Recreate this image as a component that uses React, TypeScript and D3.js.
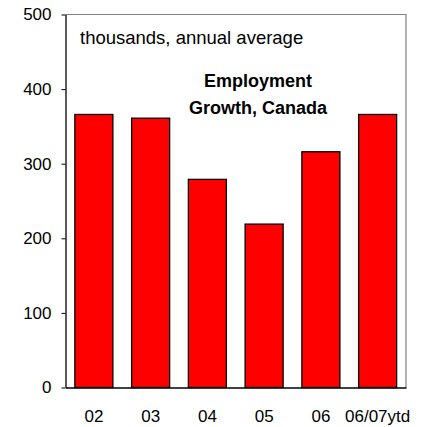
import React, { useRef, useEffect } from 'react';
import * as d3 from 'd3';

const categories = ['02', '03', '04', '05', '06', '06/07ytd'];
const values = [366, 361, 279, 219, 316, 366];
const yTicks = [0, 100, 200, 300, 400, 500];
const subtitle = 'thousands, annual average';
const titleLines = ['Employment', 'Growth, Canada'];

const W = 428;
const H = 427;

const App: React.FC = () => {
  const svgRef = useRef<SVGSVGElement | null>(null);

  useEffect(() => {
    if (!svgRef.current) return;
    const margin = { top: 14.5, right: 22, bottom: 39.5, left: 65.5 };
    const innerWidth = W - margin.left - margin.right;
    const innerHeight = H - margin.top - margin.bottom;
    const svg = d3.select(svgRef.current);
    svg.selectAll('*').remove();
    const g = svg.append('g').attr('transform', `translate(${margin.left},${margin.top})`);

    const x = d3.scaleBand<string>().domain(categories).range([0, innerWidth]).paddingInner(0.33).paddingOuter(0.165);
    const y = d3.scaleLinear().domain([0, 500]).range([innerHeight, 0]);

    // frame top + right (grey)
    g.append('path')
      .attr('d', `M0,0H${innerWidth}V${innerHeight}`)
      .attr('fill', 'none')
      .attr('stroke', '#7f7f7f')
      .attr('stroke-width', 1.2);

    g.selectAll('rect.bar')
      .data(values)
      .join('rect')
      .attr('class', 'bar')
      .attr('x', (d, i) => x(categories[i])!)
      .attr('y', d => y(d))
      .attr('width', x.bandwidth())
      .attr('height', d => innerHeight - y(d))
      .attr('fill', '#ff0000')
      .attr('stroke', '#000')
      .attr('stroke-width', 1.3);

    const yAxis = g.append('g')
      .call(d3.axisLeft(y).tickValues(yTicks).tickSize(4).tickSizeOuter(0).tickPadding(10));
    yAxis.select('.domain').attr('stroke', '#000').attr('stroke-width', 1.3);
    yAxis.selectAll('line').attr('stroke', '#000');
    yAxis.selectAll('text')
      .attr('fill', '#000')
      .style('font-family', 'Arial, "Liberation Sans", sans-serif')
      .style('font-size', '17px');

    const xAxis = g.append('g')
      .attr('transform', `translate(0,${innerHeight})`)
      .call(d3.axisBottom(x).tickSize(0).tickPadding(22));
    xAxis.select('.domain').attr('stroke', '#000').attr('stroke-width', 1.3);
    xAxis.selectAll('text')
      .attr('fill', '#000')
      .style('font-family', 'Arial, "Liberation Sans", sans-serif')
      .style('font-size', '17px');

    g.append('text')
      .attr('x', 14.5)
      .attr('y', 29)
      .style('font-family', 'Arial, "Liberation Sans", sans-serif')
      .style('font-size', '18.5px')
      .text(subtitle);

    g.selectAll('text.title')
      .data(titleLines)
      .join('text')
      .attr('class', 'title')
      .attr('x', 192.5)
      .attr('y', (d, i) => 72.5 + i * 26.5)
      .attr('text-anchor', 'middle')
      .style('font-family', 'Arial, "Liberation Sans", sans-serif')
      .style('font-size', '18px')
      .style('font-weight', 'bold')
      .text(d => d);
  }, []);

  return (
    <svg
      ref={svgRef}
      width={W}
      height={H}
      style={{ position: 'absolute', left: 0, top: 0, background: '#fff' }}
    />
  );
};

export default App;
